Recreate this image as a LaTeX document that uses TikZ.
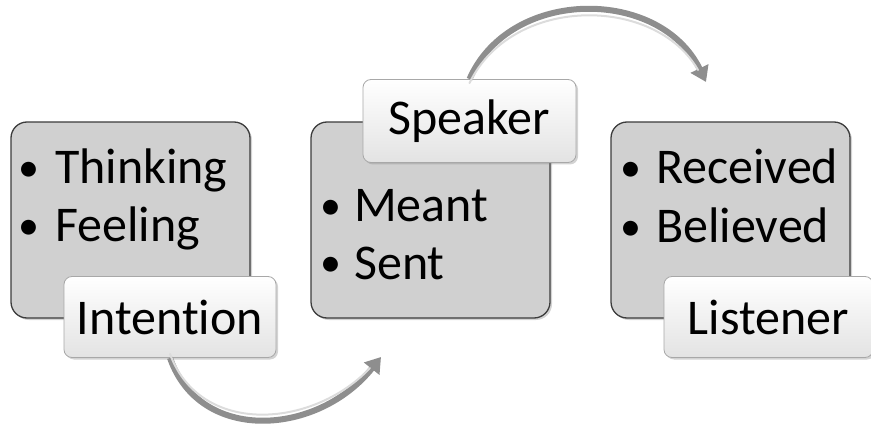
\documentclass[tikz,border=0pt]{standalone}
\usepackage{fontspec}
\setmainfont[Ligatures={NoCommon,NoDiscretionary,NoRare},Contextuals=NoAlternate]{Carlito}
\usetikzlibrary{shadows,arrows.meta,shadings}
\definecolor{boxfill}{HTML}{D0D0D0}
\definecolor{boxline}{HTML}{3C3C3C}
\definecolor{labline}{HTML}{A8A8A8}
\definecolor{arrdark}{HTML}{8E8E8E}
\definecolor{arrlight}{HTML}{DCDCDC}
\newcommand{\dotmark}[1]{\makebox[#1][l]{\raisebox{2pt}{\fontsize{42}{46}\selectfont •}}}
\tikzset{
  graybox/.style={draw=boxline, line width=1.3pt, fill=boxfill, rounded corners=16pt,
    minimum width=239pt, minimum height=196pt, inner sep=0pt,
    drop shadow={shadow xshift=2pt, shadow yshift=-2pt, opacity=0.35}},
  labelbox/.style={draw=labline, line width=0.8pt, top color=white, bottom color=gray!22,
    rounded corners=8pt, minimum height=81pt, inner sep=0pt, font=\fontsize{50}{60}\selectfont,
    drop shadow={shadow xshift=2pt, shadow yshift=-2pt, opacity=0.35}},
  bullet/.style={anchor=base west, inner sep=0pt, font=\fontsize{50}{60}\selectfont},
  flowarrow/.style={draw=arrdark, line width=6pt, -{Triangle[length=15pt,width=19pt]}},
  flowshine/.style={draw=arrlight, line width=2pt, line cap=round},
}
\begin{document}
\begin{tikzpicture}[x=1pt,y=-1pt]
\useasboundingbox (0,0) rectangle (871,425);
% boxes
\node[graybox] (box1) at (130.5,220) {};
\node[graybox] (box2) at (430.5,220) {};
\node[graybox] (box3) at (730.5,220) {};
% bullet lines
\node[bullet] (t1) at (18,184) {\dotmark{37pt}Thinking};
\node[bullet] (t2) at (18,242) {\dotmark{37pt}Feeling};
\node[bullet] (t3) at (320,222) {\dotmark{34pt}Meant};
\node[bullet] (t4) at (320,279) {\dotmark{34pt}Sent};
\node[bullet] (t5) at (620,184) {\dotmark{36pt}Received};
\node[bullet] (t6) at (620,243) {\dotmark{36pt}Believed};
% labels
\node[labelbox, minimum width=212pt] (lab1) at (170,317) {Intention};
\node[labelbox, minimum width=213pt, minimum height=83pt] (lab2) at (469.5,121) {Speaker};
\node[labelbox, minimum width=209pt] (lab3) at (768.5,317) {Listener};
% arrows
\coordinate (tip1) at (381,357);
\coordinate (tip2) at (706,82);
\draw[flowarrow] (lab1.south) .. controls (200,444) and (318,436) .. (tip1);
\draw[flowshine] ([yshift=4pt]lab1.south) .. controls (200,436) and (312,429) .. (370,368);
\draw[flowarrow] (lab2.north) .. controls (510,-13) and (660,-13) .. (tip2);
\draw[flowshine] ([yshift=-4pt]lab2.north) .. controls (512,-5) and (655,-5) .. (698,70);
\end{tikzpicture}
\end{document}
